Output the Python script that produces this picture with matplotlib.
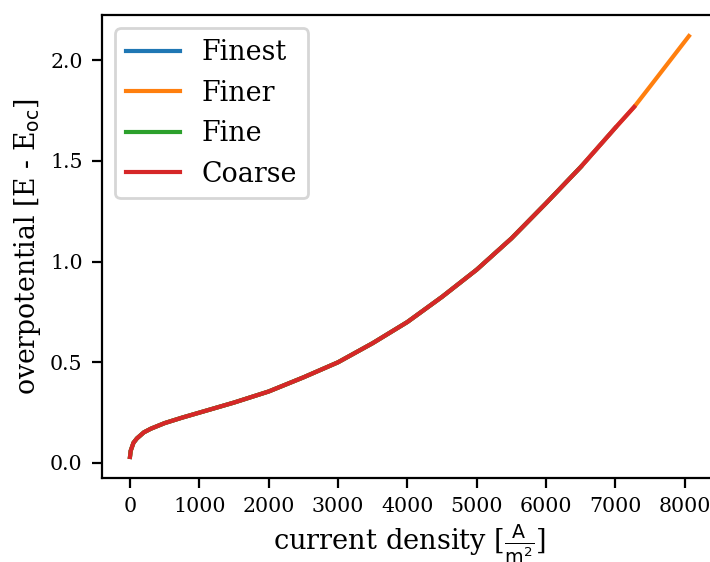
import matplotlib
matplotlib.use("Agg")
import matplotlib.pyplot as plt

# current density [A/m2] and overpotential [V]
j_finer = [0, 10, 50, 100, 200, 300, 500, 750, 1000, 1500, 2000, 2500, 3000,
           3500, 4000, 4500, 5000, 5500, 6000, 6500, 7000, 7270, 7500, 8060]
eta_finer = [0.03, 0.06, 0.10, 0.122, 0.152, 0.17, 0.198, 0.225, 0.25, 0.30,
             0.355, 0.425, 0.50, 0.595, 0.70, 0.825, 0.96, 1.115, 1.29, 1.47,
             1.665, 1.768, 1.87, 2.12]

j_coarse = [0, 10, 50, 100, 200, 300, 500, 750, 1000, 1500, 2000, 2500, 3000,
            3500, 4000, 4500, 5000, 5500, 6000, 6500, 7000, 7270]
eta_coarse = [0.03, 0.06, 0.10, 0.122, 0.152, 0.17, 0.198, 0.225, 0.25, 0.30,
              0.355, 0.425, 0.50, 0.595, 0.70, 0.825, 0.96, 1.115, 1.29, 1.47,
              1.665, 1.768]

j_finest = j_coarse[:-1]
eta_finest = eta_coarse[:-1]
j_fine = j_coarse[:-2]
eta_fine = eta_coarse[:-2]

plt.rcParams['font.family'] = 'serif'

fig = plt.figure(figsize=(3.55, 2.81), dpi=200)
ax = fig.add_axes([0.1437, 0.1495, 0.866, 0.8238])

ax.plot(j_finest, eta_finest, label="Finest")
ax.plot(j_finer, eta_finer, label="Finer")
ax.plot(j_fine, eta_fine, label="Fine")
ax.plot(j_coarse, eta_coarse, label="Coarse")

ax.set_xticks([0, 1000, 2000, 3000, 4000, 5000, 6000, 7000, 8000])
ax.set_yticks([0.0, 0.5, 1.0, 1.5, 2.0])
ax.tick_params(labelsize=7.4)
ax.set_xlabel(r"current density [$\frac{\mathrm{A}}{\mathrm{m}^2}$]", fontsize=9.8, labelpad=2)
ax.set_ylabel(r"overpotential [E - E$_{\mathrm{oc}}$]", fontsize=9.6, labelpad=2.5)
ax.legend(fontsize=9.7, loc="upper left")

fig.savefig("out.png", dpi=200)
